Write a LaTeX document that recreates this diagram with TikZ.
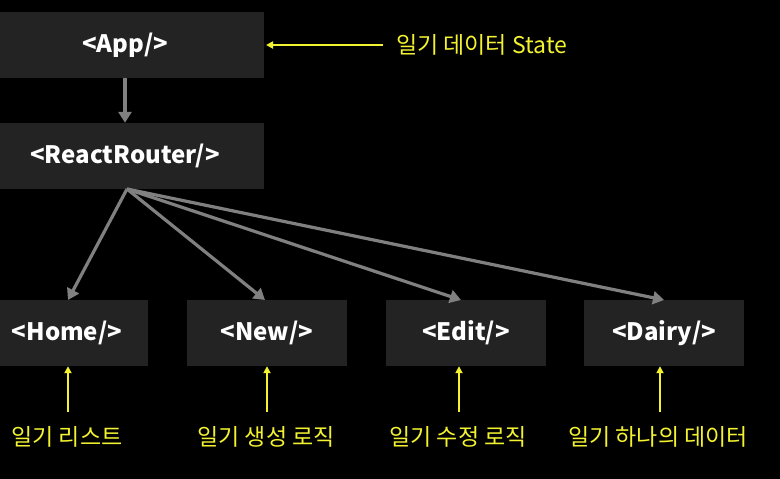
\documentclass[tikz,border=0pt]{standalone}
\usepackage{fontspec}
\setmainfont{Noto Sans CJK KR}
\usetikzlibrary{arrows.meta}
\definecolor{boxfill}{HTML}{232323}
\definecolor{linegray}{HTML}{808080}
\definecolor{ylw}{HTML}{F2F230}
\tikzset{
  compbox/.style={fill=boxfill, draw=none, text=white, font=\fontsize{24}{28}\selectfont\bfseries, inner sep=0pt, minimum height=66pt},
  graylink/.style={draw=linegray, line width=3.2pt, -{Triangle[length=11pt,width=13pt]}},
  ylwlink/.style={draw=ylw, line width=1.8pt, -{Triangle[length=7pt,width=7pt]}},
  ylwlabel/.style={text=ylw, font=\fontsize{23}{26}\selectfont, inner sep=0pt}
}
\begin{document}
\begin{tikzpicture}[x=1pt,y=-1pt]
\fill[black] (0,0) rectangle (780,479);
\useasboundingbox (0,0) rectangle (780,479);
% boxes
\node[compbox, minimum width=278pt] (app) at (125,45) {<App/>};
\node[compbox, minimum width=278pt] (router) at (125,156) {<ReactRouter/>};
\node[compbox, minimum width=162pt] (home) at (67,333) {<Home/>};
\node[compbox, minimum width=160pt] (new) at (267,333) {<New/>};
\node[compbox, minimum width=160pt] (edit) at (466,333) {<Edit/>};
\node[compbox, minimum width=160pt] (dairy) at (664,333) {<Dairy/>};
% gray connectors
\draw[graylink] (app.south) -- (router.north);
\coordinate (rr) at (127,189);
\coordinate (thome) at (68,300);
\coordinate (tnew) at (265,300);
\coordinate (tedit) at (461,300);
\coordinate (tdairy) at (664,300);
\draw[graylink] (rr) -- (thome);
\draw[graylink] (rr) -- (tnew);
\draw[graylink] (rr) -- (tedit);
\draw[graylink] (rr) -- (tdairy);
% top annotation
\node[ylwlabel, anchor=west] (state) at (396,45) {일기 데이터 State};
\coordinate (sstart) at (383,45);
\coordinate (send) at (266,45);
\draw[ylwlink] (sstart) -- (send);
% bottom labels
\node[ylwlabel] (l1) at (67,437) {일기 리스트};
\node[ylwlabel] (l2) at (266,437) {일기 생성 로직};
\node[ylwlabel] (l3) at (458,437) {일기 수정 로직};
\node[ylwlabel] (l4) at (658,437) {일기 하나의 데이터};
\coordinate (a1) at (68,412);
\coordinate (a2) at (267,412);
\coordinate (a3) at (459,412);
\coordinate (a4) at (660,412);
\draw[ylwlink] (a1) -- (a1 |- home.south);
\draw[ylwlink] (a2) -- (a2 |- new.south);
\draw[ylwlink] (a3) -- (a3 |- edit.south);
\draw[ylwlink] (a4) -- (a4 |- dairy.south);
\end{tikzpicture}
\end{document}
